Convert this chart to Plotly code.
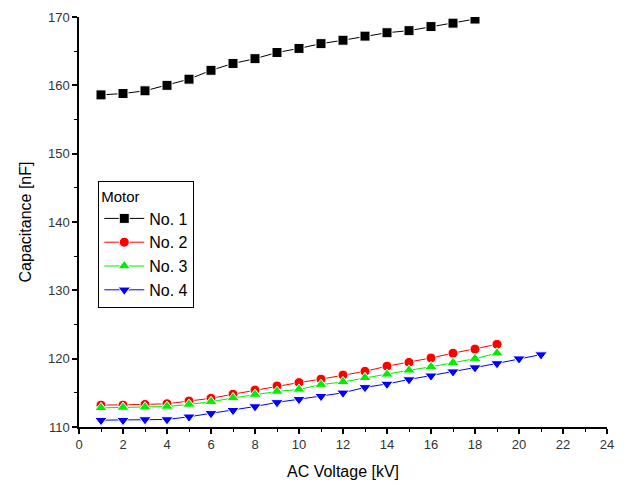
import plotly.graph_objects as go

voltage1 = list(range(1, 19))
motor1 = [158.6, 158.8, 159.2, 160.0, 160.9, 162.2, 163.2, 163.9, 164.8, 165.4,
          166.1, 166.6, 167.2, 167.7, 168.0, 168.6, 169.1, 169.7]

voltage2 = list(range(1, 20))
motor2 = [113.2, 113.2, 113.3, 113.4, 113.8, 114.2, 114.8, 115.4, 116.0, 116.5,
          117.0, 117.6, 118.15, 118.9, 119.45, 120.1, 120.8, 121.4, 122.1]

voltage3 = list(range(1, 20))
motor3 = [112.8, 112.85, 112.9, 113.0, 113.3, 113.7, 114.25, 114.75, 115.2, 115.5,
          116.2, 116.6, 117.2, 117.7, 118.3, 118.8, 119.4, 120.0, 120.8]

voltage4 = list(range(1, 22))
motor4 = [111.0, 111.0, 111.1, 111.1, 111.5, 112.0, 112.45, 113.0, 113.6, 114.05,
          114.5, 115.0, 115.8, 116.3, 116.95, 117.5, 118.1, 118.7, 119.3, 120.0, 120.6]

x_ticks = list(range(0, 25, 2))
y_ticks = list(range(110, 171, 10))

series = [
    ("No. 1", voltage1, motor1, "#000000", "#000000", "square", 10),
    ("No. 2", voltage2, motor2, "#ff0000", "#ff0000", "circle", 10),
    ("No. 3", voltage3, motor3, "#00ee00", "#00ee00", "triangle-up", 11),
    ("No. 4", voltage4, motor4, "#0000ff", "#0000ff", "triangle-down", 11),
]

fig = go.Figure()
for name, xs, ys, lc, mc, sym, sz in series:
    fig.add_trace(go.Scatter(
        x=xs, y=ys, name=name, mode="lines+markers",
        line=dict(color=lc, width=1),
        marker=dict(symbol=sym, size=sz, color=mc, line=dict(color="white", width=1)),
    ))

font = "Liberation Sans, Arial, sans-serif"
# page body has an 8px default margin, so the figure is sized 8px smaller
fig.update_layout(
    width=620, height=481,
    margin=dict(l=71, r=21, t=9, b=62, autoexpand=False),
    plot_bgcolor="white", paper_bgcolor="white",
    font=dict(family=font, color="#222222"),
    showlegend=True,
    legend=dict(
        title=dict(text="Motor", font=dict(size=15, color="#000000")),
        x=0.0365, y=0.600, xanchor="left", yanchor="top",
        bordercolor="#000000", borderwidth=1, bgcolor="white",
        font=dict(size=16, color="#000000"),
        tracegroupgap=0, itemwidth=40,
    ),
    xaxis=dict(
        range=[0, 24], tickvals=x_ticks, ticktext=[str(v) for v in x_ticks],
        showgrid=False, zeroline=False, showline=True, linecolor="black", linewidth=1.5,
        ticks="outside", ticklen=5, tickwidth=1.5, tickcolor="black",
        tickfont=dict(size=13, color="#333333"), automargin=False,
        minor=dict(dtick=1, ticks="outside", ticklen=3, tickwidth=1, tickcolor="black", showgrid=False),
        title=dict(text="AC Voltage [kV]", font=dict(size=16, color="#000000"), standoff=14),
    ),
    yaxis=dict(
        range=[110, 170], tickvals=y_ticks, ticktext=[str(v) for v in y_ticks],
        showgrid=False, zeroline=False, showline=True, linecolor="black", linewidth=1.5,
        ticks="outside", ticklen=5, tickwidth=1.5, tickcolor="black",
        tickfont=dict(size=13, color="#333333"), automargin=False,
        minor=dict(dtick=5, ticks="outside", ticklen=3, tickwidth=1, tickcolor="black", showgrid=False),
        title=dict(text="Capacitance [nF]", font=dict(size=16, color="#000000"), standoff=12),
    ),
)

fig.write_html("out.html")
